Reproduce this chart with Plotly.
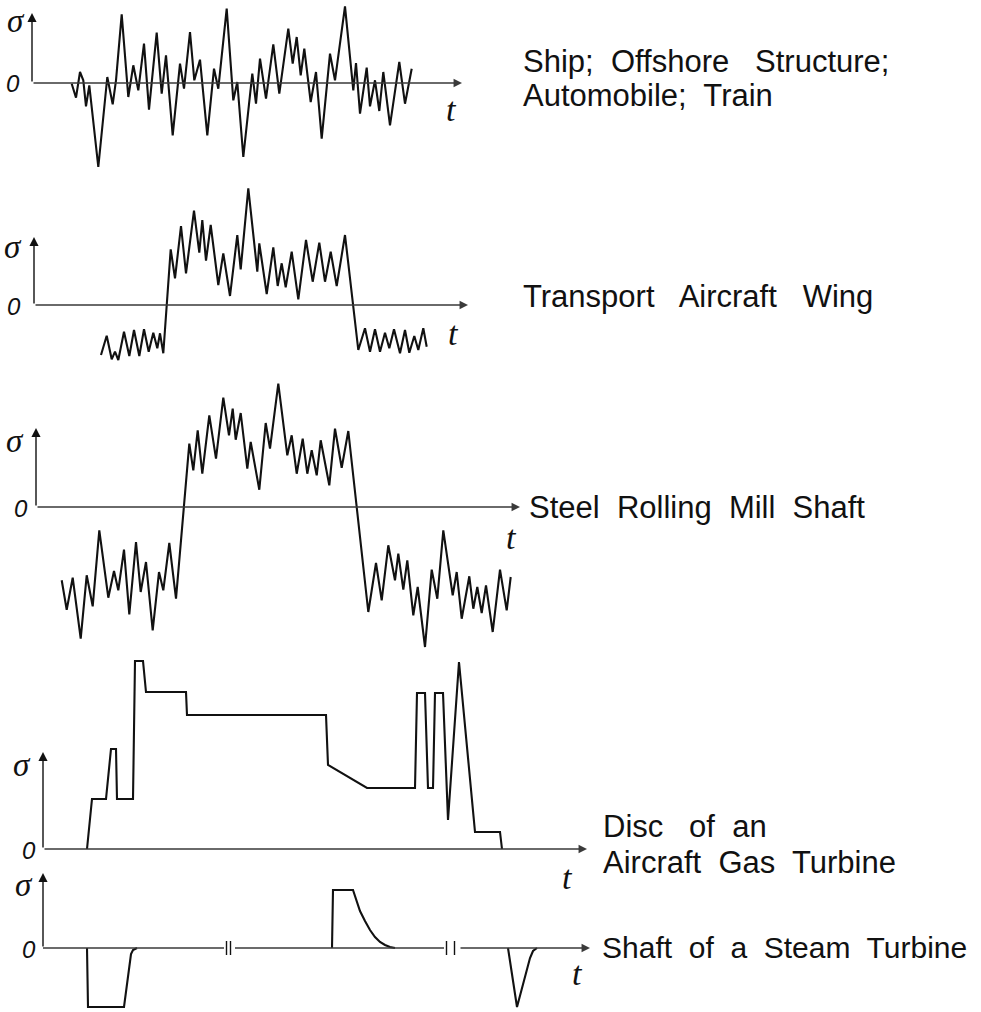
import plotly.graph_objects as go

W, H = 981, 1012

# ---------------- load histories: time t and stress sigma ----------------
# Ship; offshore structure; automobile; train  (random stationary loading)
ship_t = [71.7, 76.0, 80.0, 83.3, 86.0, 89.3, 98.3, 107.3, 112.7, 116.0, 121.7, 128.3,
          133.3, 138.3, 144.0, 149.0, 156.7, 161.7, 166.0, 172.7, 180.0, 184.0, 190.0,
          194.3, 200.0, 207.3, 214.0, 218.3, 226.7, 233.3, 237.3, 243.3, 252.3, 256.0,
          260.0, 266.0, 273.3, 279.3, 288.3, 292.7, 296.7, 300.7, 304.3, 310.7, 316.0,
          321.7, 330.0, 335.0, 345.0, 353.3, 356.0, 360.0, 366.7, 370.0, 375.0, 379.3,
          383.3, 390.0, 399.3, 405.0, 411.7]
ship_s = [-0.7, -14.7, 11.0, 2.7, -23.3, -2.3, -84.0, 6.0, -21.3, 2.7, 68.7, -14.0,
          17.7, -7.3, 39.3, -26.7, 50.3, -10.7, 27.7, -52.3, 19.3, -5.7, 51.0,
          2.7, 23.3, -52.3, 14.3, -5.7, 74.3, -17.3, 1.0, -74.0, 9.3, -20.7,
          24.3, -15.7, 38.7, -10.7, 54.3, 19.3, 46.0, 7.7, 34.3, -19.0, 11.0,
          -55.7, 29.3, 2.7, 76.7, -7.3, 20.0, -30.7, 15.3, -23.3, 2.7, -28.0,
          11.0, -42.3, 21.0, -20.7, 14.3]

# Transport aircraft wing  (ground - flight - ground)
wing_t = [101.0, 106.7, 111.7, 115.0, 118.3, 124.0, 129.3, 134.0, 139.3, 144.0, 148.7,
          153.3, 157.3, 160.0, 163.3, 170.7, 175.0, 181.0, 186.0, 194.0, 199.3, 202.3,
          206.0, 210.7, 218.3, 223.3, 230.0, 237.3, 240.7, 248.3, 257.3, 259.3, 266.7,
          273.3, 277.7, 281.7, 285.7, 291.7, 298.3, 306.0, 312.7, 319.3, 325.0, 330.7,
          336.7, 345.0, 358.3, 365.0, 370.0, 375.0, 380.0, 385.0, 389.3, 394.0, 400.0,
          405.0, 409.3, 414.3, 418.3, 423.3, 426.7]
wing_s = [-50.0, -30.7, -54.3, -46.7, -55.0, -26.7, -51.0, -25.0, -51.0, -24.3, -46.7,
          -27.7, -43.3, -28.3, -48.3, 55.7, 26.7, 79.0, 31.7, 94.3, 52.3, 85.0,
          44.3, 80.0, 20.0, 51.7, 9.0, 70.0, 35.7, 116.7, 33.3, 61.7, 11.0,
          57.7, 19.0, 41.7, 17.7, 53.3, 5.7, 65.0, 23.3, 62.3, 23.3, 53.3,
          19.0, 70.0, -45.0, -23.3, -46.7, -24.3, -46.7, -27.7, -43.3, -24.3, -48.3,
          -25.0, -47.7, -31.0, -45.0, -23.3, -41.7]

# Steel rolling mill shaft  (reversing mill)
mill_t = [61.7, 66.7, 72.7, 80.7, 86.7, 92.7, 99.3, 108.3, 114.0, 118.3, 124.0, 129.3,
          136.0, 140.7, 146.0, 152.7, 159.0, 163.3, 169.3, 176.0, 189.3, 193.3, 197.7,
          202.3, 209.3, 216.0, 223.3, 229.0, 232.7, 235.7, 240.7, 247.3, 250.7, 259.3,
          265.7, 270.0, 278.3, 287.3, 291.7, 296.7, 302.7, 307.3, 311.7, 316.7, 320.7,
          329.3, 335.0, 341.7, 348.3, 368.3, 376.0, 381.7, 388.3, 395.0, 398.3, 403.3,
          407.3, 413.3, 417.7, 425.0, 431.7, 437.3, 443.3, 452.7, 456.7, 461.7, 469.3,
          473.3, 477.3, 481.7, 486.0, 492.7, 500.0, 506.7, 510.7]
mill_s = [-73.3, -102.7, -70.7, -131.7, -68.3, -99.3, -23.3, -90.7, -64.0, -83.3, -42.7, -107.3,
          -35.0, -85.0, -55.0, -123.3, -65.0, -83.3, -36.0, -91.7, 63.3, 36.7, 76.7,
          33.3, 91.7, 48.3, 109.3, 71.7, 98.3, 67.3, 94.0, 38.3, 65.0, 17.3,
          84.0, 58.3, 123.3, 51.7, 71.7, 33.3, 68.3, 33.3, 56.7, 31.7, 66.7,
          21.7, 78.3, 39.3, 76.0, -105.0, -56.0, -93.3, -38.3, -73.3, -46.7, -82.7,
          -53.3, -108.3, -80.0, -140.0, -62.7, -91.7, -23.3, -88.3, -65.0, -111.7, -69.3,
          -101.7, -80.0, -106.0, -78.3, -125.0, -62.7, -103.3, -70.0]

# Disc of an aircraft gas turbine  (start - take-off - cruise - landing)
disc_t = [87, 92, 106, 111, 116, 117, 133, 135, 143, 146, 186, 187, 326, 328, 367,
          415, 417, 425, 428, 433, 435, 443, 448, 459, 475, 500, 502]
disc_s = [0, 50, 50, 100, 100, 50, 50, 188, 188, 157, 157, 134, 134, 84, 61,
          61, 156, 156, 61, 61, 156, 156, 29, 187, 17, 17, 0]

# Shaft of a steam turbine  (three separate events, None splits them)
steam_t = [87, 88, 124, 131, 133, 137, None,
           332, 333, 353, 356, 360, 365, 370, 375, 380, 385, 390, 395, None,
           508, 517, 530, 533, 537]
steam_s = [0, -59, -59, -6, -2, 0, None,
           0, 58, 58, 48, 37, 27, 18, 11, 6, 3, 1, 0, None,
           0, -59, -10, -3, 0]

series = [(ship_t, ship_s), (wing_t, wing_s), (mill_t, mill_s),
          (disc_t, disc_s), (steam_t, steam_s)]

SP2 = "\u00a0 "
SP3 = "\u00a0\u00a0 "
names = [["Ship;" + SP2 + "Offshore" + SP3 + "Structure;", "Automobile;" + SP2 + "Train"],
         ["Transport" + SP3 + "Aircraft" + SP3 + "Wing"],
         ["Steel" + SP2 + "Rolling" + SP2 + "Mill" + SP2 + "Shaft"],
         ["Disc" + SP3 + "of" + SP2 + "an", "Aircraft" + SP2 + "Gas" + SP2 + "Turbine"],
         ["Shaft" + SP2 + "of" + SP2 + "a" + SP2 + "Steam" + SP2 + "Turbine"]]
name_size = [31, 31, 31, 31, 30]

# ---------------- panel geometry (pixels in the page) ----------------
panels = [
    dict(top=0,   bottom=172,  zero=83,  ox=32, ytop=13,  xend=462),
    dict(top=172, bottom=365,  zero=305, ox=34, ytop=237, xend=468),
    dict(top=365, bottom=655,  zero=507, ox=36, ytop=428, xend=520),
    dict(top=655, bottom=862,  zero=849, ox=43, ytop=752, xend=587),
    dict(top=862, bottom=1012, zero=948, ox=43, ytop=873, xend=590),
]
# label positions (page pixels): sigma, zero, t, and the name lines
sig_pos = [(16, 21), (13, 247), (15, 441), (22, 765), (24, 885)]
zero_pos = [(13, 84), (14, 306), (21, 508), (29, 850), (29, 949)]
t_pos = [(451, 109), (453, 333), (511, 537), (567, 877), (577, 973)]
name_pos = [[(521, 62), (521, 95)], [(521, 297)], [(527, 507)],
            [(601, 826), (601, 862)], [(600, 947)]]

INK = "#111111"
AXIS = "#3a3a3a"

fig = go.Figure()
layout = dict(
    width=W, height=H, margin=dict(l=0, r=0, t=0, b=0),
    paper_bgcolor="white", plot_bgcolor="white", showlegend=False,
    xaxis=dict(range=[0, W], domain=[0, 1], visible=False, fixedrange=True),
)
annotations = []
shapes = []


def px(x, y):
    return x / W, 1 - y / H


for i, (p, (t, s)) in enumerate(zip(panels, series)):
    k = "" if i == 0 else str(i + 1)
    yname = "y" + k
    layout["yaxis" + k] = dict(
        domain=[1 - p["bottom"] / H, 1 - p["top"] / H],
        range=[p["zero"] - p["bottom"], p["zero"] - p["top"]],
        visible=False, fixedrange=True, anchor="x",
    )
    zx = p["ox"]
    top_s = p["zero"] - p["ytop"]

    # sigma axis arrow
    annotations.append(dict(
        x=zx, y=top_s, ax=zx, ay=0, xref="x", yref=yname, axref="x", ayref=yname,
        text="", showarrow=True, arrowhead=2, arrowsize=1.3, arrowwidth=1.4,
        arrowcolor=INK, standoff=0, startstandoff=0))

    # t axis (with break marks on the steam-turbine strip)
    if i == 4:
        gaps = [(224, 235), (444, 459)]
        xs = [zx]
        for a, b in gaps:
            xs += [a, b]
        segs = [(xs[j], xs[j + 1]) for j in range(0, len(xs) - 1, 2)]
        for a, b in segs:
            shapes.append(dict(type="line", xref="x", yref=yname, x0=a, x1=b, y0=0, y1=0,
                               line=dict(color=AXIS, width=1.3)))
        for a, b in gaps:
            for xm in (a + 2.5, b - 4.5):
                shapes.append(dict(type="line", xref="x", yref=yname, x0=xm, x1=xm,
                                   y0=-7, y1=7, line=dict(color=INK, width=1.4)))
        start = gaps[-1][1]
    else:
        start = zx
    annotations.append(dict(
        x=p["xend"], y=0, ax=start, ay=0, xref="x", yref=yname, axref="x", ayref=yname,
        text="", showarrow=True, arrowhead=2, arrowsize=1.3, arrowwidth=1.3,
        arrowcolor=AXIS, standoff=0, startstandoff=0))

    # stress history
    fig.add_trace(go.Scatter(
        x=t, y=s, mode="lines", xaxis="x", yaxis=yname, connectgaps=False,
        line=dict(color=INK, width=2.1), hoverinfo="skip"))

    # labels
    sx, sy = px(*sig_pos[i])
    annotations.append(dict(x=sx, y=sy, xref="paper", yref="paper", text="<i>σ</i>",
                            showarrow=False, xanchor="center", yanchor="middle",
                            font=dict(family="Liberation Serif", size=33, color=INK)))
    ox_, oy_ = px(*zero_pos[i])
    annotations.append(dict(x=ox_, y=oy_, xref="paper", yref="paper", text="<i>0</i>",
                            showarrow=False, xanchor="center", yanchor="middle",
                            font=dict(family="Liberation Sans", size=24, color=INK)))
    tx, ty = px(*t_pos[i])
    annotations.append(dict(x=tx, y=ty, xref="paper", yref="paper", text="<i>t</i>",
                            showarrow=False, xanchor="center", yanchor="middle",
                            font=dict(family="Liberation Serif", size=34, color=INK)))
    for line, (nx, ny) in zip(names[i], name_pos[i]):
        qx, qy = px(nx, ny)
        annotations.append(dict(x=qx, y=qy, xref="paper", yref="paper", text=line,
                                showarrow=False, xanchor="left", yanchor="middle",
                                font=dict(family="Liberation Sans", size=name_size[i],
                                          color=INK)))

layout["annotations"] = annotations
layout["shapes"] = shapes
fig.update_layout(**layout)
fig.write_html("out.html")
